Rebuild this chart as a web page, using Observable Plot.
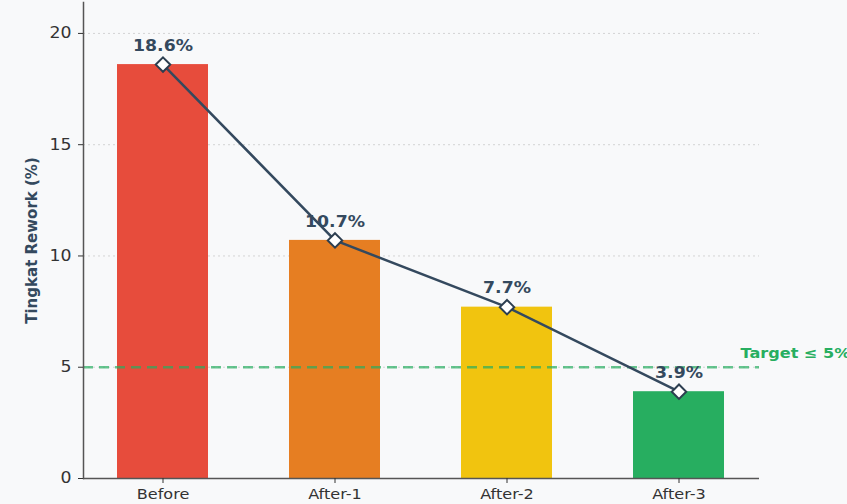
<!DOCTYPE html>
<html>
<head>
<meta charset="utf-8">
<script src="https://cdn.jsdelivr.net/npm/d3@7"></script>
<script src="https://cdn.jsdelivr.net/npm/@observablehq/plot@0.6"></script>
<style>
  html, body { margin: 0; padding: 0; background: #f8f9fa; }
  #chart svg { display: block; background: #f8f9fa; }
  #chart g[aria-label="y-axis label"] text { font-weight: bold; font-size: 15px; fill: #34495e; }
</style>
</head>
<body>
<div id="chart"></div>
<script>
const categories = ["Before", "After-1", "After-2", "After-3"];
const values = [18.6, 10.7, 7.7, 3.9];
const barColors = ["#e74c3c", "#e67e22", "#f1c40f", "#27ae60"];
const yTicks = [0, 5, 10, 15, 20];
const targetValue = 5;
const targetLabel = "Target ≤ 5%";
const yLabel = "Tingkat Rework (%)";

const data = categories.map((c, i) => ({cat: c, val: values[i], color: barColors[i], label: values[i].toFixed(1) + "%"}));

const chart = Plot.plot({
  width: 847,
  height: 504,
  marginLeft: 83,
  marginRight: 88,
  marginTop: 2,
  marginBottom: 26,
  style: {fontFamily: "DejaVu Sans, sans-serif", background: "#f8f9fa"},
  x: {domain: categories, paddingInner: 0.47, paddingOuter: 0.197, label: null},
  y: {domain: [0, 18.6 * 1.15], label: null},
  color: {type: "identity"},
  marks: [
    Plot.gridY([5, 10, 15, 20], {stroke: "#bbb", strokeOpacity: 0.6, strokeDasharray: "2,3", strokeWidth: 1}),
    Plot.barY(data, {x: "cat", y: "val", fill: "color"}),
    Plot.ruleY([targetValue], {stroke: "#27ae60", strokeWidth: 2.5, strokeDasharray: "10,6", strokeOpacity: 0.7}),
    Plot.text([targetLabel], {frameAnchor: "right", y: [targetValue], text: d => d, textAnchor: "start", dx: -19, dy: -14, fill: "#27ae60", fontWeight: "bold", fontSize: 14}),
    Plot.line(data, {x: "cat", y: "val", stroke: "#34495e", strokeWidth: 2.5}),
    Plot.dot(data, {x: "cat", y: "val", symbol: "diamond2", r: 6.5, fill: "white", stroke: "#2c3e50", strokeWidth: 2}),
    Plot.text(data, {x: "cat", y: "val", text: "label", dy: -18.5, fill: "#34495e", fontWeight: "bold", fontSize: 15}),
    Plot.ruleY([0], {stroke: "#555", strokeWidth: 1.5}),
    Plot.frame({anchor: "left", stroke: "#555", strokeWidth: 1.5}),
    Plot.axisY({ticks: yTicks, tickSize: 5, tickPadding: 7, fontSize: 15, color: "#333", label: yLabel, labelAnchor: "center", labelArrow: "none", labelOffset: 57}),
    Plot.axisX({tickSize: 5, tickPadding: 6, fontSize: 14, color: "#333", label: null})
  ]
});
document.getElementById("chart").append(chart);

// the reference picture is slightly wider than tall in its lettering: widen horizontal text
chart.querySelectorAll("text").forEach(t => {
  if (t.closest('g[aria-label="y-axis label"]')) return;
  const len = t.getComputedTextLength();
  if (len > 0) {
    t.setAttribute("textLength", (len * 1.15).toFixed(1));
    t.setAttribute("lengthAdjust", "spacingAndGlyphs");
  }
});
</script>
</body>
</html>
